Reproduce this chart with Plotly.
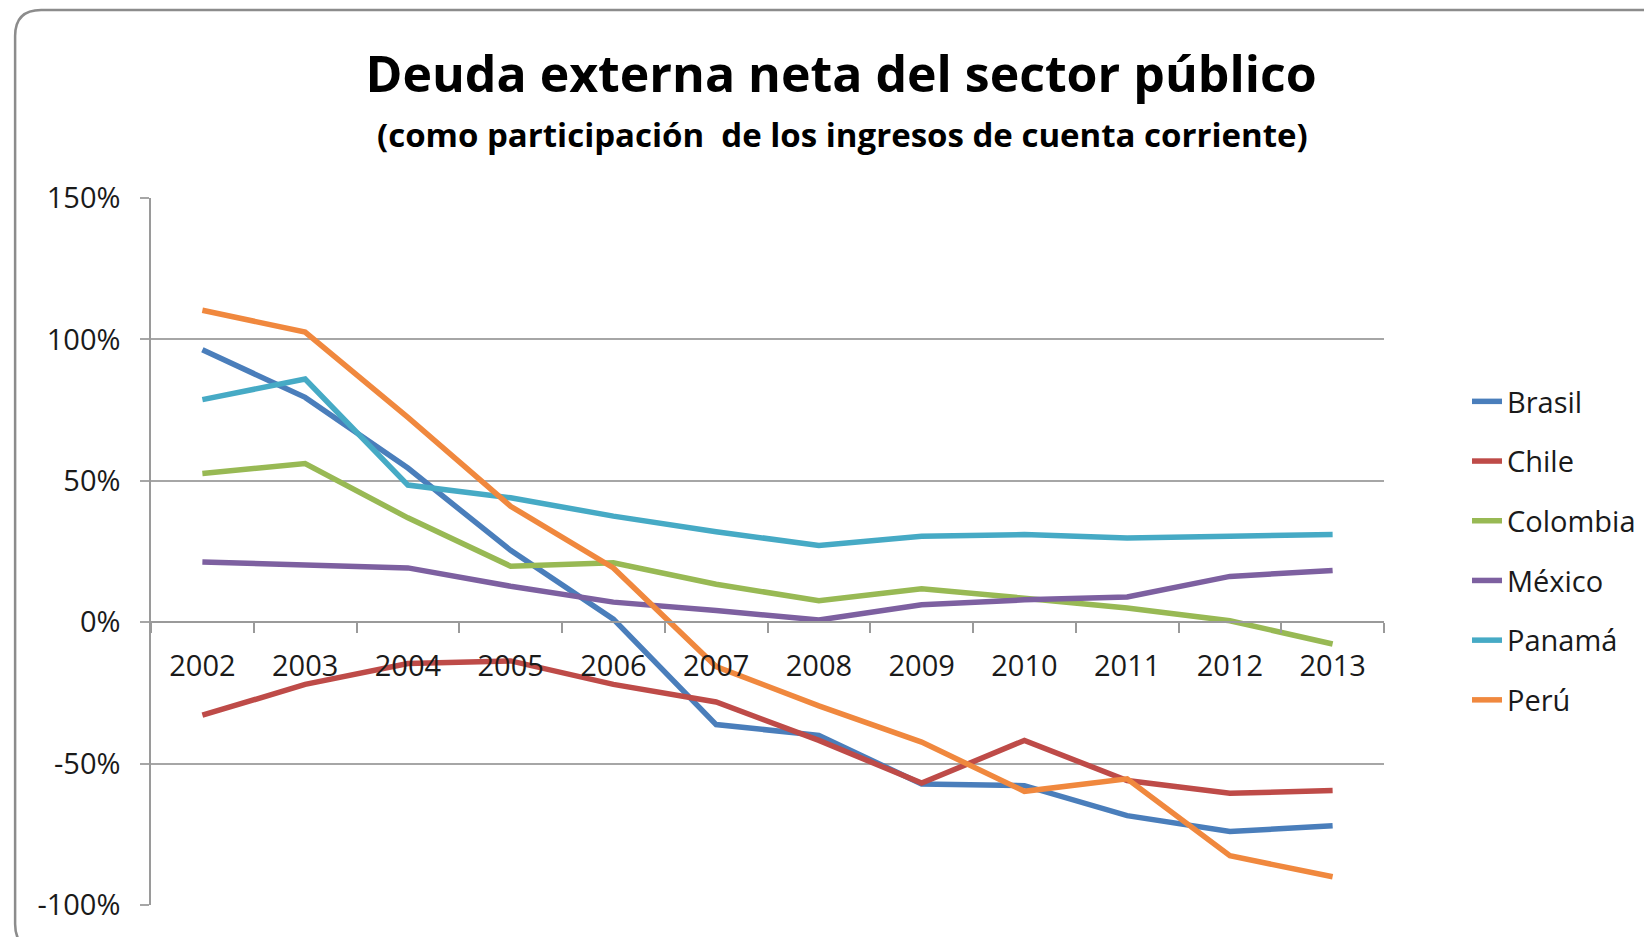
import plotly.graph_objects as go

years = ["2002", "2003", "2004", "2005", "2006", "2007", "2008", "2009", "2010", "2011", "2012", "2013"]

brasil = [96.3, 79.5, 54.5, 25.4, 1.1, -36.2, -40.0, -57.2, -57.8, -68.4, -74.0, -72.0]
chile = [-32.9, -22.0, -14.6, -13.7, -22.0, -28.2, -41.8, -56.9, -41.8, -56.0, -60.5, -59.5]
colombia = [52.6, 56.1, 36.9, 19.8, 21.0, 13.4, 7.6, 11.8, 8.5, 5.0, 0.5, -7.7]
mexico = [21.3, 20.1, 19.2, 12.7, 7.1, 4.1, 0.8, 6.2, 7.9, 8.9, 16.2, 18.3]
panama = [78.7, 86.0, 48.5, 44.0, 37.5, 32.0, 27.1, 30.4, 31.0, 29.8, 30.4, 31.0]
peru = [110.3, 102.6, 72.4, 41.0, 19.2, -15.7, -29.6, -42.4, -59.8, -55.4, -82.6, -90.0]

series_names = ["Brasil", "Chile", "Colombia", "México", "Panamá", "Perú"]
series_values = [brasil, chile, colombia, mexico, panama, peru]
series_colors = ["#4A7EBB", "#BE4B48", "#98B954", "#7D60A0", "#46AAC5", "#F0883E"]

y_tickvals = [-100, -50, 0, 50, 100, 150]
y_ticktext = ["-100%", "-50%", "0%", "50%", "100%", "150%"]

title_text = "Deuda externa neta del sector público"
subtitle_text = "(como participación&nbsp; de los ingresos de cuenta corriente)"

OFF = 8  # page body margin
W, H = 1652 - OFF, 937 - OFF
L, R, T, B = 151 - OFF, 1385 - OFF, 198 - OFF, 905 - OFF

def px_x(x):
    return (x - OFF - L) / (R - L)

def px_y(y):
    return (B - (y - OFF)) / (B - T)

fig = go.Figure()
for name, vals, col in zip(series_names, series_values, series_colors):
    fig.add_trace(go.Scatter(
        x=years, y=vals, name=name, mode="lines",
        line=dict(color=col, width=5.5),
        legendgroup=name,
    ))

# rounded border of the chart area
x0, y0, x1, y1 = px_x(15), px_y(10), px_x(1668), px_y(950)
rx = 26 / (R - L)
ry = 26 / (B - T)
path = (f"M {x0+rx},{y0} L {x1-rx},{y0} Q {x1},{y0} {x1},{y0-ry} "
        f"L {x1},{y1+ry} Q {x1},{y1} {x1-rx},{y1} L {x0+rx},{y1} "
        f"Q {x0},{y1} {x0},{y1+ry} L {x0},{y0-ry} Q {x0},{y0} {x0+rx},{y0} Z")

fig.update_layout(
    width=W, height=H,
    margin=dict(l=L, r=W - R, t=T, b=H - B),
    paper_bgcolor="white", plot_bgcolor="white",
    font=dict(family="Open Sans", color="#1a1a1a"),
    title=dict(text=f"<b>{title_text}</b>", x=(841 - OFF) / W, xanchor="center",
               y=1 - (74 - OFF) / H, yanchor="middle",
               font=dict(family="Open Sans", size=50, color="black")),
    annotations=[dict(text=f"<b>{subtitle_text}</b>", xref="paper", yref="paper",
                      x=px_x(843), y=px_y(135), xanchor="center", yanchor="middle",
                      showarrow=False, font=dict(family="Open Sans", size=33, color="black"))],
    shapes=[dict(type="path", path=path, xref="paper", yref="paper",
                 line=dict(color="#8C8C8C", width=2.5), layer="below")],
    legend=dict(x=px_x(1467), xanchor="left", y=px_y(376), yanchor="top",
                font=dict(family="Open Sans", size=29, color="#1a1a1a"),
                traceorder="grouped", tracegroupgap=19, bgcolor="rgba(0,0,0,0)"),
    showlegend=True,
)

fig.update_xaxes(
    type="category", range=[-0.5, 11.5], anchor="free", position=0.4,
    showline=True, linecolor="#9A9A9A", linewidth=1.5,
    ticks="outside", tickson="boundaries", ticklen=10, tickcolor="#9A9A9A", tickwidth=1.5,
    showgrid=False, tickfont=dict(family="Open Sans", size=29, color="#1a1a1a"),
    ticklabelstandoff=18,
)
fig.update_yaxes(
    range=[-100, 150], tickvals=y_tickvals, ticktext=y_ticktext,
    showline=True, linecolor="#9A9A9A", linewidth=1.5,
    showgrid=True, gridcolor="#A6A6A6", gridwidth=1.5, zeroline=False,
    ticks="outside", ticklen=9, tickcolor="#A6A6A6", tickwidth=1.5,
    tickfont=dict(family="Open Sans", size=29, color="#1a1a1a"),
    ticklabelstandoff=14,
)

fig.write_html("out.html")
